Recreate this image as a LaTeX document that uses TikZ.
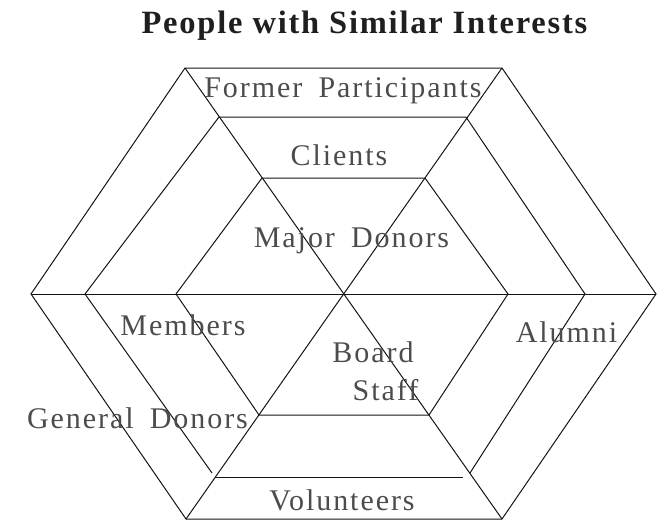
\documentclass[tikz,border=0pt]{standalone}
\usepackage{fontspec}
\setmainfont{Liberation Serif}
\newfontfamily\labfont[LetterSpace=6.5,WordSpace=1.7]{Liberation Serif}
\newfontfamily\titfont[LetterSpace=5.5]{Liberation Serif}
\begin{document}
\begin{tikzpicture}[x=1pt,y=-1pt,
  edge/.style={draw=black!92,line width=1pt,line join=miter},
  lab/.style={anchor=base,inner sep=0pt,text=black!70,font=\labfont\fontsize{30}{34}\selectfont},
  ttl/.style={anchor=base,inner sep=0pt,text=black!88,font=\titfont\bfseries\fontsize{32.5}{38}\selectfont}]
\useasboundingbox (0,0) rectangle (657,522);
% outer hexagon
\coordinate (O1) at (185,68);
\coordinate (O2) at (502,68);
\coordinate (O3) at (656,294);
\coordinate (O4) at (502,519);
\coordinate (O5) at (186,519);
\coordinate (O6) at (31,294);
% middle hexagon
\coordinate (M1) at (219,117);
\coordinate (M2) at (466,117);
\coordinate (M3) at (585,294);
\coordinate (M4) at (470,473);
\coordinate (Mb2) at (463,477);
\coordinate (Mb1) at (215,477);
\coordinate (M5) at (212,473);
\coordinate (M6) at (85,294);
% inner hexagon
\coordinate (I1) at (262,178);
\coordinate (I2) at (425,178);
\coordinate (I3) at (508,294);
\coordinate (I4) at (429,415);
\coordinate (I5) at (259,415);
\coordinate (I6) at (176,294);

\path[edge] (O1) -- (O2) -- (O3) -- (O4) -- (O5) -- (O6) -- cycle;
\path[edge] (O6) -- (O3);
\path[edge] (O1) -- (O4);
\path[edge] (O2) -- (O5);
\path[edge] (M6) -- (M1) -- (M2) -- (M3) -- (M4);
\path[edge] (M6) -- (M5);
\path[edge] (Mb1) -- (Mb2);
\path[edge] (I1) -- (I2) -- (I3) -- (I4) -- (I5) -- (I6) -- cycle;

\node[ttl] (title) at (364.5,33) {People with Similar Interests};
\node[lab] (former) at (343,97) {Former Participants};
\node[lab] (clients) at (339,165) {Clients};
\node[lab] (major) at (351.5,247) {Major Donors};
\node[lab] (members) at (183,335) {Members};
\node[lab] (general) at (137.5,428) {General Donors};
\node[lab] (board) at (373,362) {Board};
\node[lab] (staff) at (385.5,400) {Staff};
\node[lab] (alumni) at (566.5,342) {Alumni};
\node[lab] (volunteers) at (342,510) {Volunteers};
\end{tikzpicture}
\end{document}
